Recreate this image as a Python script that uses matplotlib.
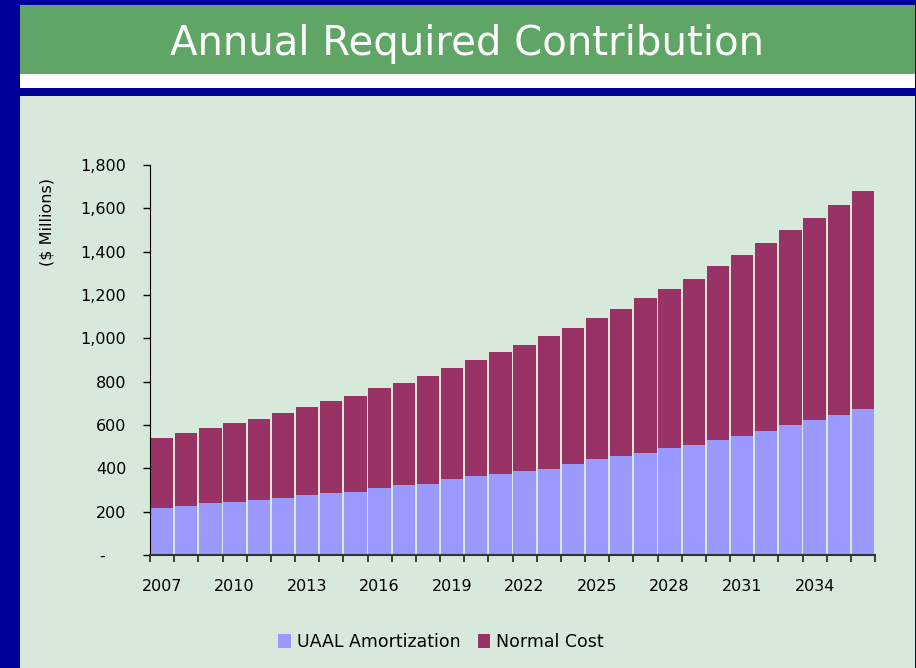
import numpy as np
import matplotlib
matplotlib.use("Agg")
import matplotlib.pyplot as plt
from matplotlib.patches import Rectangle

years = list(range(2007, 2037))
uaal = [215, 224, 238, 243, 252, 261, 275, 284, 293, 307, 321, 330, 349, 363, 376,
        390, 399, 418, 441, 455, 473, 492, 510, 533, 551, 574, 602, 621, 648, 676]
normal_cost = [327, 337, 346, 368, 378, 396, 410, 429, 443, 466, 475, 498, 516, 539, 562,
               581, 613, 631, 654, 682, 714, 737, 765, 802, 834, 867, 898, 935, 968, 1004]
yticks = [0, 200, 400, 600, 800, 1000, 1200, 1400, 1600, 1800]
ytick_labels = ["-    ", "200", "400", "600", "800", "1,000", "1,200", "1,400", "1,600", "1,800"]

W, H = 916, 668
blue = "#000099"
green = "#5fa565"
panel = "#d6e9da"
c_uaal = "#9999ff"
c_norm = "#993366"

plt.rcParams["font.family"] = ["DejaVu Sans"]

fig = plt.figure(figsize=(W / 100, H / 100), dpi=100)
fig.patch.set_facecolor(blue)

def box(x0, y0, x1, y1, color):
    # pixel coords measured from top-left
    fig.patches.append(Rectangle((x0 / W, 1 - y1 / H), (x1 - x0) / W, (y1 - y0) / H,
                                 transform=fig.transFigure, facecolor=color,
                                 edgecolor="none", zorder=-5))

box(20, 5, 915, 74, green)
box(20, 74, 915, 88, "white")
box(20, 96, 915, 668, panel)

fig.text(467 / W, 1 - 55 / H, "Annual Required Contribution", color="white",
         fontsize=29, ha="center", va="baseline")

ax = fig.add_axes([150 / W, 1 - 555 / H, 725 / W, 390 / H])
ax.set_zorder(5)
ax.set_facecolor("none")

x = np.arange(len(years))
ax.bar(x, uaal, width=0.93, color=c_uaal, label="UAAL Amortization")
ax.bar(x, normal_cost, width=0.93, bottom=uaal, color=c_norm, label="Normal Cost")

ax.set_xlim(-0.5, len(years) - 0.5)
ax.set_ylim(0, 1800)
ax.set_yticks(yticks)
ax.set_yticklabels(ytick_labels)
ax.tick_params(axis="y", direction="out", length=5, width=1, pad=12, labelsize=11.5,
               colors="black")

# tick marks at category boundaries, labels every third year
ax.set_xticks(np.arange(len(years) + 1) - 0.5)
ax.set_xticklabels([])
ax.tick_params(axis="x", which="major", direction="out", length=5, width=1.2, color="#222222")
ax.set_xticks(x[::3], minor=True)
ax.set_xticklabels([str(y) for y in years[::3]], minor=True)
ax.tick_params(axis="x", which="minor", length=0, pad=17, labelsize=11.5)

for s in ["top", "right"]:
    ax.spines[s].set_visible(False)
ax.spines["left"].set_color("black")
ax.spines["bottom"].set_color("#333333")
ax.spines["bottom"].set_linewidth(1.5)

fig.text(47 / W, 1 - 222 / H, "($ Millions)", rotation=90, ha="center", va="center",
         fontsize=11.5)

fig.legend(loc="center", bbox_to_anchor=(441 / W, 1 - 642 / H), ncol=2, frameon=False,
           fontsize=12.5, handlelength=0.7, handleheight=0.9, handletextpad=0.35,
           columnspacing=1.0)

fig.savefig("out.png", dpi=100, facecolor=fig.get_facecolor())
